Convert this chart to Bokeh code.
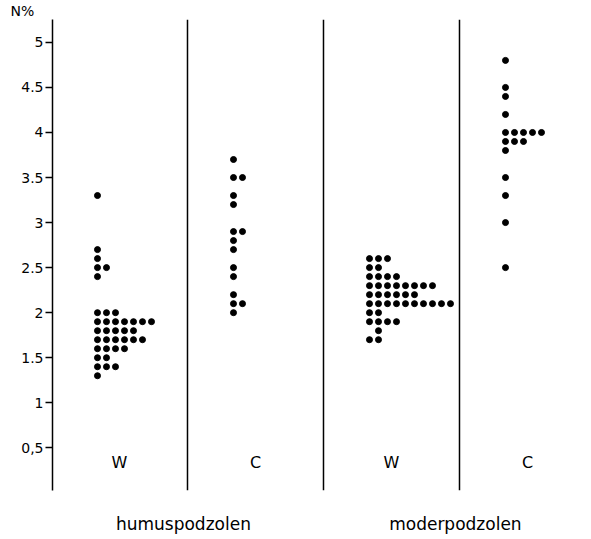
from bokeh.plotting import figure
from bokeh.models import Range1d, FixedTicker, Span, Label, ColumnDataSource, LinearAxis, Title
from bokeh.embed import file_html
from bokeh.resources import INLINE

# ---- data ----
categories = ["W", "C", "W", "C"]
groups = ["humuspodzolen", "moderpodzolen"]
y_ticks = [0.5, 1, 1.5, 2, 2.5, 3, 3.5, 4, 4.5, 5]
y_tick_labels = ["0,5", "1", "1.5", "2", "2.5", "3", "3.5", "4", "4.5", "5"]
y_title = "N%"

humus_w = [3.3, 2.7, 2.6, 2.5, 2.5, 2.4,
           2.0, 2.0, 2.0,
           1.9, 1.9, 1.9, 1.9, 1.9, 1.9, 1.9,
           1.8, 1.8, 1.8, 1.8, 1.8,
           1.7, 1.7, 1.7, 1.7, 1.7, 1.7,
           1.6, 1.6, 1.6, 1.6,
           1.5, 1.5,
           1.4, 1.4, 1.4,
           1.3]
humus_c = [3.7, 3.5, 3.5, 3.3, 3.2, 2.9, 2.9, 2.8, 2.7, 2.5, 2.4, 2.2,
           2.1, 2.1, 2.0]
moder_w = [2.6, 2.6, 2.6,
           2.5, 2.5,
           2.4, 2.4, 2.4, 2.4,
           2.3, 2.3, 2.3, 2.3, 2.3, 2.3, 2.3, 2.3,
           2.2, 2.2, 2.2, 2.2, 2.2, 2.2,
           2.1, 2.1, 2.1, 2.1, 2.1, 2.1, 2.1, 2.1, 2.1, 2.1,
           2.0, 2.0,
           1.9, 1.9, 1.9, 1.9,
           1.8,
           1.7, 1.7]
moder_w_row_shift = {1.8: 1}
moder_c = [4.8, 4.5, 4.4, 4.2,
           4.0, 4.0, 4.0, 4.0, 4.0,
           3.9, 3.9, 3.9,
           3.8, 3.5, 3.3, 3.0, 2.5]

series = [humus_w, humus_c, moder_w, moder_c]
shifts = [{}, {}, moder_w_row_shift, {}]

# ---- layout constants ----
PX_PER_UNIT = 136.0
DOT_STEP = 9.0 / PX_PER_UNIT
DOT_OFFSET = -22.0 / PX_PER_UNIT
FONT = "DejaVu Sans"

xs, ys = [], []
for gi, (vals, sh) in enumerate(zip(series, shifts)):
    counts = {}
    for v in vals:
        key = round(v, 2)
        k = counts.get(key, sh.get(key, 0))
        counts[key] = k + 1
        xs.append(gi + DOT_OFFSET + DOT_STEP * k)
        ys.append(v)

src = ColumnDataSource(data=dict(x=xs, y=ys))

p = figure(width=583, height=536,
           x_range=Range1d(-0.4926, 3.353), y_range=Range1d(0.026, 5.254),
           output_backend="svg", toolbar_location=None,
           min_border_left=52, min_border_top=18, min_border_right=8,
           min_border_bottom=44, x_axis_location=None)
p.outline_line_color = None
p.grid.visible = False
p.background_fill_color = "white"

p.title = Title(text=y_title, align="left", offset=-42, standoff=1,
                text_font=FONT, text_font_size="14px", text_font_style="normal",
                text_color="black", vertical_align="bottom")

ax = p.yaxis[0]
ax.ticker = FixedTicker(ticks=y_ticks)
ax.major_label_overrides = {t: l for t, l in zip(y_ticks, y_tick_labels)}
ax.axis_line_width = 1.5
ax.axis_line_color = "black"
ax.major_tick_line_color = "black"
ax.major_tick_line_width = 1.3
ax.major_tick_out = 7
ax.major_tick_in = 0
ax.minor_tick_line_color = None
ax.major_label_standoff = 2
ax.major_label_text_font = FONT
ax.major_label_text_font_size = "14px"
ax.major_label_text_color = "black"

bx = LinearAxis(ticker=FixedTicker(ticks=[2 * j + 0.47 for j in range(len(groups))]),
                major_label_overrides={2 * j + 0.47: g for j, g in enumerate(groups)},
                axis_line_color=None, major_tick_line_color=None,
                minor_tick_line_color=None, major_tick_out=0, major_tick_in=0,
                major_label_standoff=23, major_label_text_font=FONT,
                major_label_text_font_size="17px", major_label_text_color="black")
p.add_layout(bx, "below")

for loc in [0.5, 1.5, 2.5]:
    p.add_layout(Span(location=loc, dimension="height", line_color="black",
                      line_width=1.5))

p.scatter("x", "y", source=src, size=6, color="black")

for i, c in enumerate(categories):
    p.add_layout(Label(x=i, y=0.335, text=c, text_align="center",
                       text_baseline="middle", text_font=FONT,
                       text_font_size="16px", text_color="black"))

open("out.html", "w").write(file_html(p, INLINE))
